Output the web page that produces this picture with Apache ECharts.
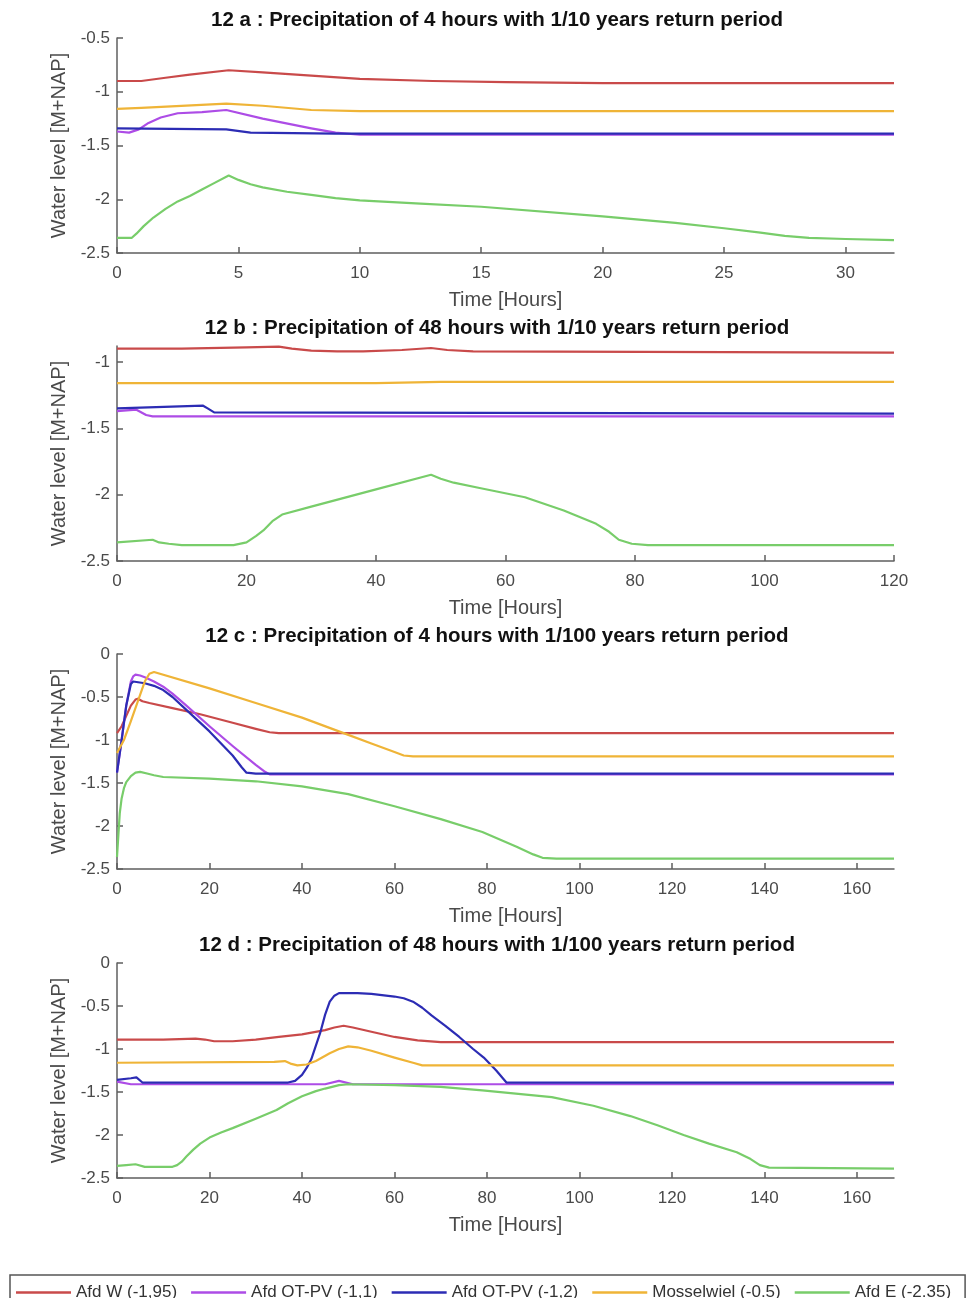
<!DOCTYPE html>
<html>
<head>
<meta charset="utf-8">
<script src="https://cdn.jsdelivr.net/npm/echarts@6/dist/echarts.min.js"></script>
<style>
  html, body { margin: 0; padding: 0; background: #fff; }
  #chart { width: 968px; height: 1298px; }
</style>
</head>
<body>
<div id="chart"></div>
<script>
// series names (legend)
const names = ['Afd W (-1,95)', 'Afd OT-PV (-1,1)', 'Afd OT-PV (-1,2)', 'Mosselwiel (-0.5)', 'Afd E (-2.35)'];
const colors = ['#c94a4a', '#ad4ce6', '#2c2cb4', '#efb437', '#78cd6a'];

const titles = [
    '12 a : Precipitation of 4 hours with 1/10 years return period',
    '12 b : Precipitation of 48 hours with 1/10 years return period',
    '12 c : Precipitation of 4 hours with 1/100 years return period',
    '12 d : Precipitation of 48 hours with 1/100 years return period'
];

// tick labels
const xTicksA = [0, 5, 10, 15, 20, 25, 30];
const xTicksB = [0, 20, 40, 60, 80, 100, 120];
const xTicksCD = [0, 20, 40, 60, 80, 100, 120, 140, 160];
const yTicksA = [-2.5, -2, -1.5, -1, -0.5];
const yTicksB = [-2.5, -2, -1.5, -1];
const yTicksCD = [-2.5, -2, -1.5, -1, -0.5, 0];

// 12 a  (time [h], water level)
const aW = [[0,-0.9],[1,-0.9],[2,-0.87],[3,-0.84],[4.6,-0.8],[6,-0.82],[8,-0.85],[10,-0.88],[13,-0.9],[16,-0.91],[20,-0.92],[32,-0.92]];
const aOT11 = [[0,-1.37],[0.5,-1.38],[0.9,-1.35],[1.3,-1.29],[1.8,-1.24],[2.5,-1.2],[3.5,-1.19],[4.5,-1.17],[6,-1.25],[8,-1.34],[9,-1.38],[10,-1.4],[32,-1.4]];
const aOT12 = [[0,-1.34],[4.5,-1.35],[5.5,-1.38],[9,-1.39],[32,-1.39]];
const aMos = [[0,-1.16],[1,-1.15],[4.5,-1.11],[6,-1.13],[8,-1.17],[10,-1.18],[32,-1.18]];
const aE = [[0,-2.36],[0.6,-2.36],[0.8,-2.32],[1.1,-2.25],[1.5,-2.17],[2,-2.09],[2.5,-2.02],[3,-1.97],[3.5,-1.91],[4,-1.85],[4.6,-1.78],[5,-1.82],[5.5,-1.86],[6,-1.89],[7,-1.93],[8,-1.96],[9,-1.99],[10,-2.01],[12.5,-2.04],[15,-2.07],[20,-2.16],[23,-2.22],[25,-2.27],[26.5,-2.31],[27.5,-2.34],[28.5,-2.36],[30,-2.37],[32,-2.38]];

// 12 b
const bW = [[0,-0.9],[10,-0.9],[20,-0.89],[25,-0.885],[27,-0.9],[30,-0.915],[34,-0.92],[38,-0.92],[44,-0.91],[48.5,-0.895],[51,-0.91],[55,-0.92],[120,-0.93]];
const bOT11 = [[0,-1.37],[3,-1.36],[4.5,-1.4],[5.5,-1.41],[120,-1.41]];
const bOT12 = [[0,-1.35],[13.3,-1.33],[14,-1.35],[15,-1.38],[120,-1.39]];
const bMos = [[0,-1.16],[40,-1.16],[50,-1.15],[120,-1.15]];
const bE = [[0,-2.36],[5.5,-2.34],[6.5,-2.36],[8,-2.37],[10,-2.38],[18,-2.38],[20,-2.36],[21.5,-2.31],[22.6,-2.27],[24,-2.2],[25.5,-2.15],[30,-2.09],[40,-1.96],[48.5,-1.85],[50,-1.88],[52,-1.91],[56,-1.95],[63,-2.02],[69,-2.12],[74,-2.22],[76,-2.28],[77.5,-2.34],[79.5,-2.37],[82,-2.38],[120,-2.38]];

// 12 c
const cW = [[0,-0.92],[1,-0.84],[2,-0.72],[3,-0.6],[4,-0.53],[4.5,-0.52],[5.5,-0.55],[7,-0.57],[12,-0.63],[18,-0.7],[25,-0.8],[30,-0.87],[33,-0.91],[35,-0.92],[168,-0.92]];
const cOT11 = [[0,-1.38],[1,-1.0],[2,-0.6],[3,-0.32],[3.5,-0.26],[4,-0.24],[5,-0.25],[6,-0.27],[8,-0.32],[10,-0.38],[12,-0.46],[15,-0.6],[20,-0.84],[25,-1.07],[30,-1.29],[32,-1.37],[33,-1.4],[168,-1.4]];
const cOT12 = [[0,-1.38],[1,-1.0],[2,-0.6],[3,-0.35],[3.5,-0.32],[6,-0.34],[8,-0.37],[10,-0.42],[12,-0.5],[15,-0.65],[20,-0.9],[25,-1.18],[27,-1.32],[28,-1.38],[30,-1.39],[168,-1.39]];
const cMos = [[0,-1.15],[1.5,-1.0],[3,-0.78],[4.5,-0.55],[6,-0.32],[7,-0.23],[8,-0.21],[20,-0.4],[30,-0.57],[40,-0.74],[49,-0.92],[55,-1.04],[60,-1.14],[62,-1.18],[64,-1.19],[168,-1.19]];
const cE = [[0,-2.36],[0.3,-2.1],[0.6,-1.85],[1,-1.68],[1.5,-1.56],[2,-1.49],[3,-1.42],[4,-1.38],[5,-1.37],[6.5,-1.39],[8,-1.41],[10,-1.43],[20,-1.45],[30,-1.48],[40,-1.54],[50,-1.63],[60,-1.77],[70,-1.92],[79,-2.07],[86.4,-2.24],[90,-2.33],[92,-2.37],[95,-2.38],[168,-2.38]];

// 12 d
const dW = [[0,-0.89],[10,-0.89],[17,-0.88],[19,-0.89],[21,-0.91],[25,-0.91],[30,-0.89],[35,-0.86],[40,-0.83],[45,-0.78],[47,-0.75],[49,-0.73],[51,-0.75],[55,-0.8],[60,-0.86],[65,-0.9],[70,-0.92],[168,-0.92]];
const dOT11 = [[0,-1.38],[3,-1.41],[45,-1.41],[48,-1.37],[51,-1.41],[168,-1.41]];
const dOT12 = [[0,-1.36],[3,-1.34],[4.2,-1.33],[5.5,-1.39],[37,-1.39],[38.5,-1.37],[40,-1.3],[41,-1.22],[42,-1.12],[43,-0.96],[44,-0.8],[45,-0.6],[46,-0.45],[47,-0.38],[48,-0.35],[52,-0.35],[55,-0.36],[60,-0.39],[62,-0.41],[64,-0.45],[66,-0.52],[68,-0.61],[71,-0.73],[74,-0.86],[77,-1.0],[79.3,-1.1],[82,-1.25],[84.2,-1.39],[168,-1.39]];
const dMos = [[0,-1.16],[34,-1.15],[36.3,-1.14],[37.5,-1.17],[39,-1.19],[41,-1.18],[43,-1.14],[46,-1.05],[48,-1.0],[50,-0.97],[52,-0.98],[55,-1.02],[60,-1.1],[64,-1.16],[66,-1.19],[168,-1.19]];
const dE = [[0,-2.36],[2,-2.35],[4,-2.34],[6,-2.37],[12,-2.37],[13,-2.35],[14,-2.31],[15,-2.25],[16.5,-2.17],[18,-2.1],[20,-2.03],[22.5,-1.97],[25,-1.92],[30,-1.81],[34.5,-1.71],[37,-1.63],[40,-1.55],[43,-1.49],[45,-1.46],[48,-1.42],[50,-1.41],[60,-1.42],[70,-1.44],[79,-1.48],[94,-1.56],[103,-1.66],[111,-1.78],[117,-1.89],[122.5,-2.0],[128,-2.1],[134,-2.2],[137,-2.28],[139,-2.35],[141,-2.38],[168,-2.39]];

const panels = [
    { data: [aW, aOT11, aOT12, aMos, aE], xMax: 32, yMin: -2.5, yMax: -0.5, xTicks: xTicksA, yTicks: yTicksA, top: 38 },
    { data: [bW, bOT11, bOT12, bMos, bE], xMax: 120, yMin: -2.5, yMax: -0.88, xTicks: xTicksB, yTicks: yTicksB, top: 346 },
    { data: [cW, cOT11, cOT12, cMos, cE], xMax: 168, yMin: -2.5, yMax: 0, xTicks: xTicksCD, yTicks: yTicksCD, top: 654 },
    { data: [dW, dOT11, dOT12, dMos, dE], xMax: 168, yMin: -2.5, yMax: 0, xTicks: xTicksCD, yTicks: yTicksCD, top: 963 }
];

const font = 'Liberation Sans, Arial, Helvetica, sans-serif';
const axisColor = '#5f5f5f';
const labelColor = '#4a4a4a';

const grid = [], xAxis = [], yAxis = [], series = [], graphic = [];

panels.forEach(function (p, i) {
    grid.push({ left: 117, top: p.top, width: 777, height: 215 });
    xAxis.push({
        type: 'value', gridIndex: i, min: 0, max: p.xMax,
        name: 'Time [Hours]', nameLocation: 'middle', nameGap: 37,
        nameTextStyle: { fontFamily: font, fontSize: 20, color: labelColor },
        axisLine: { onZero: false, lineStyle: { color: axisColor, width: 1.5 } },
        axisTick: { inside: true, length: 6, customValues: p.xTicks, lineStyle: { color: axisColor, width: 1.5 } },
        axisLabel: { customValues: p.xTicks, margin: 12, fontFamily: font, fontSize: 17, color: labelColor },
        splitLine: { show: false }
    });
    yAxis.push({
        type: 'value', gridIndex: i, min: p.yMin, max: p.yMax,
        name: 'Water level [M+NAP]', nameLocation: 'middle', nameGap: 46,
        nameTextStyle: { fontFamily: font, fontSize: 20, color: labelColor },
        axisLine: { show: true, onZero: false, lineStyle: { color: axisColor, width: 1.5 } },
        axisTick: { show: true, inside: true, length: 6, customValues: p.yTicks, lineStyle: { color: axisColor, width: 1.5 } },
        axisLabel: { customValues: p.yTicks, margin: 7, fontFamily: font, fontSize: 17, color: labelColor },
        splitLine: { show: false }
    });
    p.data.forEach(function (d, k) {
        series.push({
            name: names[k], type: 'line', xAxisIndex: i, yAxisIndex: i,
            data: d, symbol: 'none', smooth: false,
            lineStyle: { color: colors[k], width: 2.2, join: 'round' },
            itemStyle: { color: colors[k] },
            z: 2 + k
        });
    });
    graphic.push({
        type: 'text', x: 497, y: p.top - 18,
        style: { text: titles[i], fontFamily: font, fontSize: 20.5, fontWeight: 'bold', fill: '#111', align: 'center', verticalAlign: 'middle' }
    });
});

const chart = echarts.init(document.getElementById('chart'));
chart.setOption({
    backgroundColor: '#fff',
    animation: false,
    grid: grid,
    xAxis: xAxis,
    yAxis: yAxis,
    series: series,
    graphic: graphic,
    legend: {
        data: names,
        icon: 'rect',
        left: 10, top: 1275,
        padding: [9, 14, 20, 6],
        itemWidth: 55, itemHeight: 2.5, itemGap: 14,
        borderColor: '#555', borderWidth: 1.5,
        textStyle: { fontFamily: font, fontSize: 17, color: '#333' }
    }
});
</script>
</body>
</html>
